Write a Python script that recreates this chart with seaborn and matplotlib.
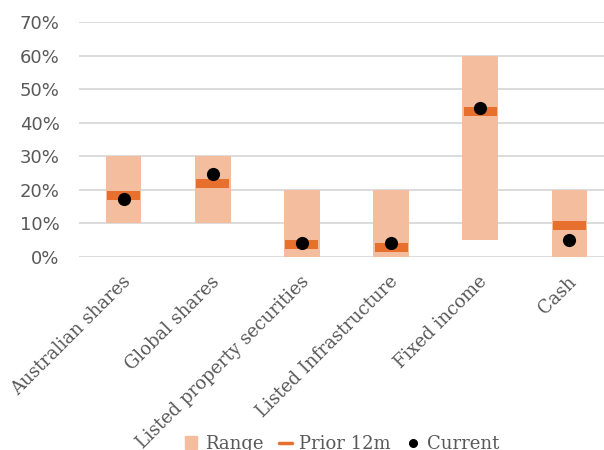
import numpy as np
import pandas as pd
import seaborn as sns
import matplotlib.pyplot as plt
import matplotlib.transforms as mtransforms
from matplotlib.patches import Patch
from matplotlib.lines import Line2D

# asset classes and allocation ranges (%)
cats = ["Australian shares", "Global shares", "Listed property securities",
        "Listed Infrastructure", "Fixed income", "Cash"]
range_low = [10, 10, 0, 0, 5, 0]
range_high = [30, 30, 20, 20, 60, 20]
prior_12m = [18.3, 21.9, 3.8, 2.9, 43.3, 9.4]
current = [17.3, 24.8, 4.3, 4.3, 44.4, 5.0]

RANGE_C = "#F4BE9E"
PRIOR_C = "#E8702E"
TXT_C = "#595959"
GRID_C = "#D9D9D9"

df = pd.DataFrame({"cat": cats, "low": range_low, "high": range_high,
                   "prior": prior_12m, "current": current})
df["span"] = df["high"] - df["low"]
band = 2.6  # thickness of the prior 12m marker, in % units
df["band"] = band

sns.set_style("white")
fig = plt.figure(figsize=(6.04, 4.5), dpi=100)
ax = fig.add_axes([79 / 604, 1 - 257 / 450, 535 / 604, 235 / 450])

sns.barplot(data=df, x="cat", y="span", order=cats, bottom=df["low"].values,
            color=RANGE_C, saturation=1, width=0.4, errorbar=None, ax=ax,
            linewidth=0, zorder=2)
sns.barplot(data=df, x="cat", y="band", order=cats,
            bottom=(df["prior"] - band / 2).values,
            color=PRIOR_C, saturation=1, width=0.37, errorbar=None, ax=ax,
            linewidth=0, zorder=3)
sns.scatterplot(data=df, x="cat", y="current", color="black", s=90,
                linewidth=0, zorder=4, ax=ax)

ax.set_ylim(0, 70)
ax.set_xlim(-0.5, 5.5)
ax.set_yticks(np.arange(0, 71, 10))
ax.set_yticklabels([f"{v}%" for v in range(0, 71, 10)])
ax.yaxis.grid(True, color=GRID_C, linewidth=1.3, zorder=0)
ax.set_axisbelow(True)
for s in ax.spines.values():
    s.set_visible(False)
ax.set_xlabel("")
ax.set_ylabel("")
ax.tick_params(axis="y", length=0, pad=14, labelsize=13, labelcolor=TXT_C)
ax.tick_params(axis="x", length=0, pad=16)
ax.set_xticks(range(len(cats)))
ax.set_xticklabels(cats, rotation=45, ha="right", va="center",
                   rotation_mode="anchor", family="DejaVu Serif",
                   fontsize=13, color=TXT_C)
shift = mtransforms.ScaledTranslation(4 / 100, 0, fig.dpi_scale_trans)
for lab in ax.get_xticklabels():
    lab.set_transform(lab.get_transform() + shift)

handles = [Patch(color=RANGE_C, label="Range"),
           Line2D([], [], color=PRIOR_C, lw=2.5, label="Prior 12m"),
           Line2D([], [], color="black", marker="o", ls="", markersize=5.5,
                  label="Current")]
fig.legend(handles=handles, loc="center", bbox_to_anchor=(342 / 604, 1 - 444 / 450),
           ncol=3, frameon=False, handlelength=0.7, handletextpad=0.4,
           columnspacing=0.9, prop={"family": "DejaVu Serif", "size": 13},
           labelcolor=TXT_C)

fig.savefig("out.png", dpi=100)
